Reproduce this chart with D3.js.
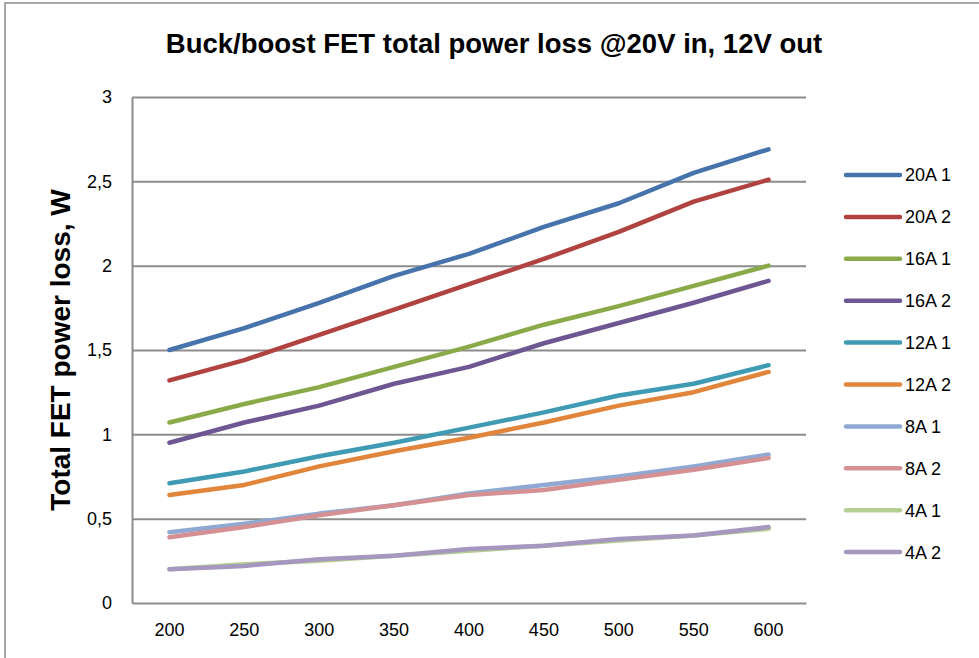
<!DOCTYPE html>
<html>
<head>
<meta charset="utf-8">
<script src="https://cdn.jsdelivr.net/npm/d3@7"></script>
<style>
  body { margin: 0; background: #fff; }
  text { font-family: "Liberation Sans", Arial, sans-serif; fill: #000; }
</style>
</head>
<body>
<svg id="chart"></svg>
<script>
// switching frequency, kHz (category axis)
var freqs = [200, 250, 300, 350, 400, 450, 500, 550, 600]
var seriesNames = ['20A 1', '20A 2', '16A 1', '16A 2', '12A 1', '12A 2', '8A 1', '8A 2', '4A 1', '4A 2']
var seriesColors = ['#4673ac', '#b0433f', '#8aaa4a', '#6e5693', '#3f9ab3', '#e0853a',
                    '#8fa9d2', '#d49092', '#b5ce91', '#a597bf']

// total FET power loss, W
var loss20a1 = [1.50, 1.63, 1.78, 1.94, 2.07, 2.23, 2.37, 2.55, 2.69]
var loss20a2 = [1.32, 1.44, 1.59, 1.74, 1.89, 2.04, 2.20, 2.38, 2.51]
var loss16a1 = [1.07, 1.18, 1.28, 1.40, 1.52, 1.65, 1.76, 1.88, 2.00]
var loss16a2 = [0.95, 1.07, 1.17, 1.30, 1.40, 1.54, 1.66, 1.78, 1.91]
var loss12a1 = [0.71, 0.78, 0.87, 0.95, 1.04, 1.13, 1.23, 1.30, 1.41]
var loss12a2 = [0.64, 0.70, 0.81, 0.90, 0.98, 1.07, 1.17, 1.25, 1.37]
var loss8a1 = [0.42, 0.47, 0.53, 0.58, 0.65, 0.70, 0.75, 0.81, 0.88]
var loss8a2 = [0.39, 0.45, 0.52, 0.58, 0.64, 0.67, 0.73, 0.79, 0.86]
var loss4a1 = [0.20, 0.23, 0.25, 0.28, 0.31, 0.34, 0.37, 0.40, 0.44]
var loss4a2 = [0.20, 0.22, 0.26, 0.28, 0.32, 0.34, 0.38, 0.40, 0.45]

var yTicks = [0, 0.5, 1, 1.5, 2, 2.5, 3]

var allLoss = [loss20a1, loss20a2, loss16a1, loss16a2, loss12a1, loss12a2, loss8a1, loss8a2, loss4a1, loss4a2]

drawChart()

function drawChart() {
    var svgWidth = 979, svgHeight = 658
    var plot = { left: 132, top: 97, right: 806, bottom: 603 }

    var svg = d3.select('#chart')
        .attr('width', svgWidth)
        .attr('height', svgHeight)

    // chart frame (runs off the right and bottom edges)
    svg.append('rect')
        .attr('x', 5).attr('y', 3)
        .attr('width', 1000).attr('height', 700)
        .attr('fill', '#fff')
        .attr('stroke', '#8c8c8c')
        .attr('stroke-width', 1.5)

    svg.append('text')
        .attr('x', 494).attr('y', 53)
        .attr('text-anchor', 'middle')
        .attr('font-size', 27.5)
        .attr('font-weight', 'bold')
        .text('Buck/boost FET total power loss @20V in, 12V out')

    var x = d3.scaleBand()
        .domain(freqs)
        .range([plot.left, plot.right])

    var y = d3.scaleLinear()
        .domain([0, 3])
        .range([plot.bottom, plot.top])

    // gridlines
    svg.append('g')
        .attr('transform', 'translate(' + plot.left + ',0)')
        .call(d3.axisLeft(y).tickValues(yTicks.slice(1))
            .tickSize(-(plot.right - plot.left)).tickFormat(''))
        .call(function (g) { g.select('.domain').remove() })
        .selectAll('line')
        .attr('stroke', '#8c8c8c')
        .attr('stroke-width', 2)

    // y axis
    var yAxis = svg.append('g')
        .attr('transform', 'translate(' + plot.left + ',0)')
        .call(d3.axisLeft(y).tickValues(yTicks).tickSize(0).tickPadding(20)
            .tickFormat(function (d) { return String(d).replace('.', ',') }))
    yAxis.select('.domain').attr('stroke', '#8c8c8c').attr('stroke-width', 2)
    yAxis.selectAll('text').attr('font-size', 18).style('font-family', '"Liberation Sans", Arial, sans-serif')

    // x axis
    var xAxis = svg.append('g')
        .attr('transform', 'translate(0,' + plot.bottom + ')')
        .call(d3.axisBottom(x).tickSize(0).tickPadding(20))
    xAxis.select('.domain').attr('stroke', '#8c8c8c').attr('stroke-width', 2)
    xAxis.selectAll('text').attr('font-size', 18).style('font-family', '"Liberation Sans", Arial, sans-serif')

    svg.append('text')
        .attr('transform', 'translate(70,' + ((plot.top + plot.bottom) / 2) + ') rotate(-90)')
        .attr('text-anchor', 'middle')
        .attr('font-size', 28)
        .attr('font-weight', 'bold')
        .text('Total FET power loss, W')

    var line = d3.line()
        .x(function (d, i) { return x(freqs[i]) + x.bandwidth() / 2 })
        .y(function (d) { return y(d) })

    svg.append('g').selectAll('path')
        .data(allLoss)
        .join('path')
        .attr('fill', 'none')
        .attr('stroke', function (d, i) { return seriesColors[i] })
        .attr('stroke-width', 4.5)
        .attr('stroke-linejoin', 'round')
        .attr('stroke-linecap', 'round')
        .attr('d', line)

    // legend
    var legend = svg.append('g')
    var rows = legend.selectAll('g')
        .data(seriesNames)
        .join('g')
        .attr('transform', function (d, i) { return 'translate(846,' + (175 + i * 41.9) + ')' })
    rows.append('line')
        .attr('x1', 0).attr('x2', 54)
        .attr('stroke', function (d, i) { return seriesColors[i] })
        .attr('stroke-width', 4.5)
        .attr('stroke-linecap', 'round')
    rows.append('text')
        .attr('x', 59).attr('dy', '0.36em')
        .attr('font-size', 18)
        .text(function (d) { return d })
}
</script>
</body>
</html>
